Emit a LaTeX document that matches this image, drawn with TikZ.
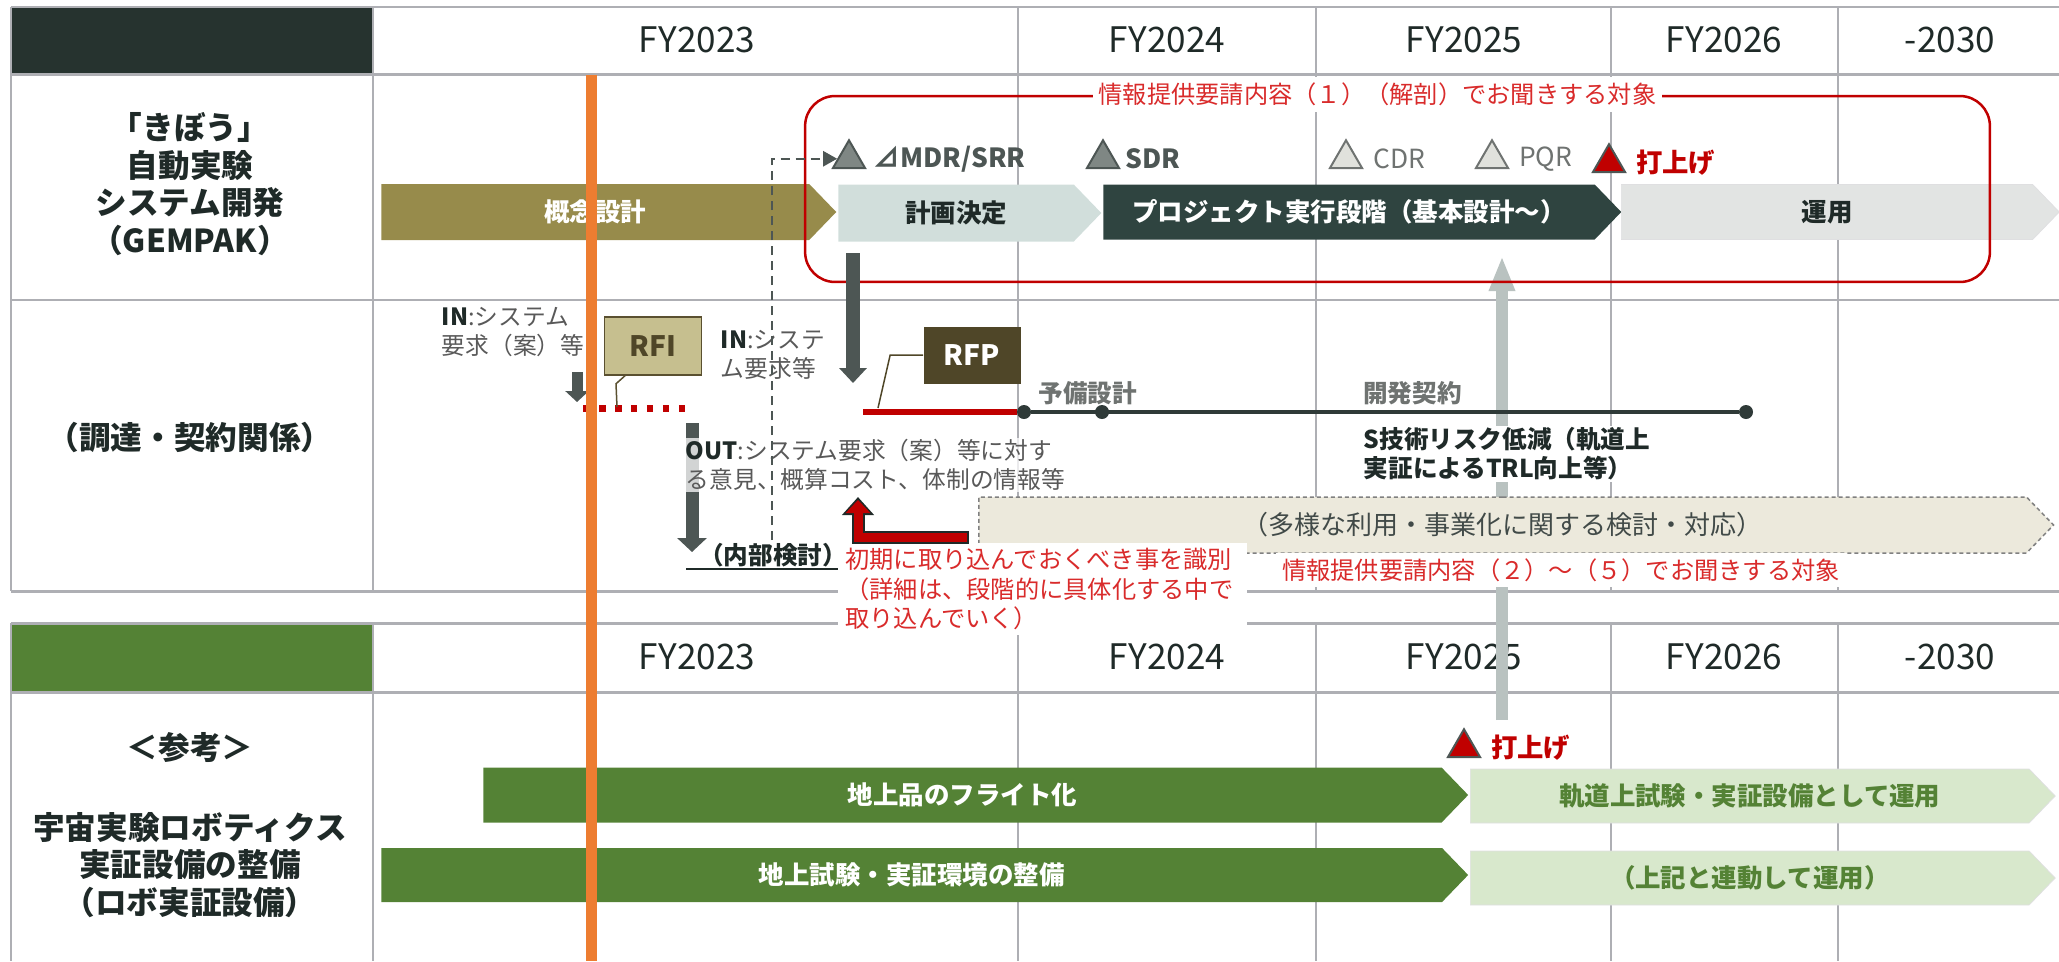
\documentclass[tikz,border=0pt]{standalone}
\usepackage{fontspec}
\setmainfont{Noto Sans CJK JP}
\usetikzlibrary{arrows.meta,shapes,positioning}

\definecolor{gridc}{HTML}{AEAFB4}
\definecolor{headdark}{HTML}{26332F}
\definecolor{txtdark}{HTML}{1F2A28}
\definecolor{olivebar}{HTML}{978B4B}
\definecolor{planbar}{HTML}{D1DEDB}
\definecolor{projbar}{HTML}{2F4440}
\definecolor{opsbar}{HTML}{E2E4E3}
\definecolor{msgray}{HTML}{7F8784}
\definecolor{mstext}{HTML}{4D5654}
\definecolor{lightms}{HTML}{E0E1DC}
\definecolor{lighttext}{HTML}{6F7371}
\definecolor{jred}{HTML}{C00000}
\definecolor{notered}{HTML}{D92B2B}
\definecolor{orangeln}{HTML}{ED7D31}
\definecolor{rfifill}{HTML}{C6BF8F}
\definecolor{rfidraw}{HTML}{5A5030}
\definecolor{rfpfill}{HTML}{4F4628}
\definecolor{arrowgray}{HTML}{4D5654}
\definecolor{upgray}{HTML}{B9C2C0}
\definecolor{beige}{HTML}{ECE9DC}
\definecolor{greenbar}{HTML}{548235}
\definecolor{lightgreen}{HTML}{D8E8CC}
\definecolor{softtext}{HTML}{595959}
\definecolor{dotc}{HTML}{2F3A38}

\begin{document}
\begin{tikzpicture}[x=0.02cm,y=-0.02cm,
    gridline/.style={gridc,line width=0.04cm},
    fy/.style={text=txtdark,font=\fontsize{20}{24}\selectfont},
    side/.style={align=center,text=txtdark,font=\fontsize{18}{21.5}\selectfont\bfseries},
    phase/.style={signal,signal to=east,signal pointer angle=92,anchor=west,inner sep=0,font=\fontsize{14.5}{17}\selectfont\bfseries},
    tri/.style={regular polygon,regular polygon sides=3,minimum size=0.74cm,inner sep=0,anchor=south,line width=0.04cm},
    mslbl/.style={inner sep=0,font=\fontsize{15}{18}\selectfont},
    note/.style={align=left,inner sep=0.03cm,text=softtext,font=\fontsize{13.5}{16.5}\selectfont},
    redtxt/.style={text=notered,fill=white,font=\fontsize{13.8}{16.7}\selectfont},
    callout/.style={line width=0.03cm}]
\useasboundingbox (0,0) rectangle (2059,961);

% table frames
\fill[headdark] (11,7) rectangle (373,74);
\fill[greenbar] (11,623) rectangle (373,692);
\draw[gridline] (11,7) -- (2059,7);
\draw[gridline,line width=0.06cm] (11,74) -- (2059,74);
\draw[gridline] (11,300) -- (2059,300);
\draw[gridline,line width=0.06cm] (11,591) -- (2059,591);
\draw[gridline] (11,7) -- (11,591);
\draw[gridline] (373,7) -- (373,591);
\draw[gridline] (1018,7) -- (1018,591);
\draw[gridline] (1316,7) -- (1316,591);
\draw[gridline] (1611,7) -- (1611,591);
\draw[gridline] (1838,7) -- (1838,591);
\draw[gridline,line width=0.06cm] (11,623) -- (2059,623);
\draw[gridline,line width=0.06cm] (11,692) -- (2059,692);
\draw[gridline] (11,623) -- (11,961);
\draw[gridline] (373,623) -- (373,961);
\draw[gridline] (1018,623) -- (1018,961);
\draw[gridline] (1316,623) -- (1316,961);
\draw[gridline] (1611,623) -- (1611,961);
\draw[gridline] (1838,623) -- (1838,961);

\node[fy] (fy23) at (697,40) {FY2023};
\node[fy] (fy24) at (1167,40) {FY2024};
\node[fy] (fy25) at (1464,40) {FY2025};
\node[fy] (fy26) at (1724,40) {FY2026};
\node[fy] (fy30) at (1950,40) {-2030};
\node[fy] (fy23b) at (697,657) {FY2023};
\node[fy] (fy24b) at (1167,657) {FY2024};
\node[fy] (fy25b) at (1464,657) {FY2025};
\node[fy] (fy26b) at (1724,657) {FY2026};
\node[fy] (fy30b) at (1950,657) {-2030};

\node[side] (kibo) at (190,184) {「きぼう」\\自動実験\\システム開発\\（GEMPAK）};
\node[side] (procure) at (190,437) {（調達・契約関係）};
\node[side] (sanko) at (190,748) {＜参考＞};
\node[side] (robo) at (190,865) {宇宙実験ロボティクス\\実証設備の整備\\（ロボ実証設備）};

% launch link
\coordinate (upfoot) at (1502,720);
\coordinate (uptip) at (1502,256);
\draw[upgray,line width=0.24cm,-{Triangle[width=0.48cm,length=0.7cm]}] (upfoot) -- (uptip);

% phases
\node[phase,fill=olivebar,text=white,minimum width=9.1cm,minimum height=1.12cm] (concept) at (381,212) {概念設計};
\node[phase,fill=planbar,text=txtdark,minimum width=5.26cm,minimum height=1.14cm] (plan) at (838,213) {計画決定};
\node[phase,fill=projbar,text=white,minimum width=10.36cm,minimum height=1.1cm] (project) at (1103,212) {プロジェクト実行段階（基本設計～）};
\node[phase,fill=opsbar,draw=gridc!40,text=txtdark,minimum width=8.76cm,minimum height=1.1cm] (ops) at (1621,212) {運用};

\node[phase,fill=greenbar,text=white,minimum width=19.7cm,minimum height=1.1cm] (flight) at (483,795) {地上品のフライト化};
\node[phase,fill=greenbar,text=white,minimum width=21.74cm,minimum height=1.08cm] (groundtest) at (381,875) {地上試験・実証環境の整備};
\node[phase,fill=lightgreen,draw=gridc!40,text=greenbar,minimum width=11.7cm,minimum height=1.08cm] (orbit) at (1470,796) {軌道上試験・実証設備として運用};
\node[phase,fill=lightgreen,draw=gridc!40,text=greenbar,minimum width=11.7cm,minimum height=1.08cm] (linked) at (1470,878) {（上記と連動して運用）};

% scope of question (1)
\node[draw=jred,line width=0.05cm,rounded corners=0.6cm,minimum width=23.7cm,minimum height=3.72cm,inner sep=0] (rfiscope) at (1397.5,189) {};
\node[redtxt] (info1) at ([xshift=-0.4cm]rfiscope.north) {情報提供要請内容（１）（解剖）でお聞きする対象};

% milestones
\node[tri,fill=msgray,draw=mstext] (mdr) at (849,169) {};
\node[mslbl,text=mstext,right=0.25cm of mdr] (mdrlbl) {\textbf{⊿MDR/SRR}};
\node[tri,fill=msgray,draw=mstext] (sdr) at (1103,169) {};
\node[mslbl,text=mstext,right=0.2cm of sdr] (sdrlbl) {\textbf{SDR}};
\node[tri,fill=lightms,draw=lighttext] (cdr) at (1346,169) {};
\node[mslbl,text=lighttext,right=0.3cm of cdr] (cdrlbl) {CDR};
\node[tri,fill=lightms,draw=lighttext] (pqr) at (1492,169) {};
\node[mslbl,text=lighttext,right=0.3cm of pqr] (pqrlbl) {PQR};
\node[tri,fill=jred,draw=mstext] (launch) at (1609,173) {};
\node[mslbl,text=jred,right=0.3cm of launch] (launchlbl) {\textbf{打上げ}};
\node[tri,fill=jred,draw=mstext] (launchb) at (1464,758) {};
\node[mslbl,text=jred,right=0.3cm of launchb] (launchblbl) {\textbf{打上げ}};

% procurement row
\node[note,anchor=west] (in1) at (440,332) {\textbf{\color{txtdark}IN}:システム\\要求（案）等};
\coordinate (in1a) at (577,372);
\coordinate (in1b) at (577,402);
\draw[arrowgray,line width=0.22cm,-{Triangle[width=0.46cm,length=0.22cm]}] (in1a) -- (in1b);

\node[draw=rfidraw,line width=0.03cm,fill=rfifill,text=rfpfill,minimum width=1.94cm,minimum height=1.16cm,font=\fontsize{16}{19}\selectfont\bfseries] (rfi) at (653,346) {RFI};
\coordinate (rfitail) at (617,407);
\coordinate (rfidots) at (583,408);
\coordinate (rfidote) at (690,408);
\draw[jred,line width=0.14cm,dash pattern=on 0.13cm off 0.19cm] (rfidots) -- (rfidote);
\draw[callout,rfidraw] ([xshift=-0.56cm]rfi.south) -- ++(-9,8) -- (rfitail);

\node[note,anchor=west] (in2) at (719,355) {\textbf{\color{txtdark}IN}:システ\\ム要求等};

\coordinate (planarrtop) at (853,253);
\coordinate (planarrtip) at (853,383);
\draw[arrowgray,line width=0.28cm,-{Triangle[width=0.54cm,length=0.3cm]}] (planarrtop) -- (planarrtip);

\node[fill=rfpfill,text=white,minimum width=1.94cm,minimum height=1.14cm,font=\fontsize{16}{19}\selectfont\bfseries] (rfp) at (972,355) {RFP};
\coordinate (rfptail) at (878,408);
\coordinate (rfpstart) at (863,412);
\draw[callout,rfpfill] (rfp.west) -- ++(-33,0) -- (rfptail);

\node[circle,fill=dotc,inner sep=0,minimum size=0.28cm] (d1) at (1024,412) {};
\node[circle,fill=dotc,inner sep=0,minimum size=0.28cm] (d2) at (1102,412) {};
\node[circle,fill=dotc,inner sep=0,minimum size=0.28cm] (d3) at (1746,412) {};
\draw[jred,line width=0.12cm] (rfpstart) -- (d1.west);
\draw[dotc,line width=0.08cm] (d1) -- (d3);
\node[mslbl,text=lighttext,font=\fontsize{14}{17}\selectfont\bfseries,above right=0.04cm and 0.18cm of d1] (prelim) {予備設計};
\node[mslbl,text=lighttext,font=\fontsize{14}{17}\selectfont\bfseries,anchor=west] (devcon) at (1363,393) {開発契約};
\node[note,text=txtdark,fill=white,font=\fontsize{14}{16.5}\selectfont\bfseries,anchor=west] (risk) at (1362,454) {S技術リスク低減（軌道上\\実証によるTRL向上等）};

\coordinate (outarrtop) at (692,423);
\coordinate (outarrtip) at (692,552);
\draw[arrowgray,line width=0.26cm,-{Triangle[width=0.58cm,length=0.28cm]}] (outarrtop) -- (outarrtip);
\node[note,fill=white,fill opacity=0.75,text opacity=1,anchor=west] (outtxt) at (684,465) {\textbf{\color{txtdark}OUT}:システム要求（案）等に対す\\る意見、概算コスト、体制の情報等};
\node[text=txtdark,inner sep=0,font=\fontsize{14}{17}\selectfont\bfseries] (internal) at (773,555) {（内部検討）};
\coordinate (ulleft) at (686,569);
\coordinate (ulright) at (838,569);
\draw[txtdark,line width=0.03cm] (ulleft) -- (ulright);

\coordinate (dashfoot) at (772,540);
\draw[arrowgray,line width=0.05cm,dash pattern=on 0.18cm off 0.12cm,-{Triangle[width=0.3cm,length=0.28cm]}] (dashfoot) |- (mdr.west);

% further studies
\node[phase,fill=beige,draw=gray,line width=0.03cm,dash pattern=on 0.08cm off 0.06cm,text=txtdark!85,font=\fontsize{14.8}{17}\selectfont,minimum width=21.5cm,minimum height=1.12cm] (diverse) at (978,525) {（多様な利用・事業化に関する検討・対応）};
\node[redtxt] (info2) at (1561,570) {情報提供要請内容（２）～（５）でお聞きする対象};
\node[redtxt,anchor=north west,text width=7.9cm,align=left,inner xsep=0.14cm,inner ysep=0.1cm] (early) at (838,543) {初期に取り込んでおくべき事を識別\\（詳細は、段階的に具体化する中で\\取り込んでいく）};

\coordinate (redstart) at (967,537);
\coordinate (redtip) at (858,497);
\draw[txtdark,line width=0.26cm,shorten <=-0.03cm,-{Triangle[width=0.62cm,length=0.36cm]}] (redstart) -| (redtip);
\draw[jred,line width=0.18cm,shorten >=0.06cm,-{Triangle[width=0.48cm,length=0.26cm]}] (redstart) -| (redtip);

% today
\coordinate (orangetop) at (591,75);
\coordinate (orangebot) at (591,961);
\draw[orangeln,line width=0.22cm] (orangetop) -- (orangebot);
\end{tikzpicture}
\end{document}
